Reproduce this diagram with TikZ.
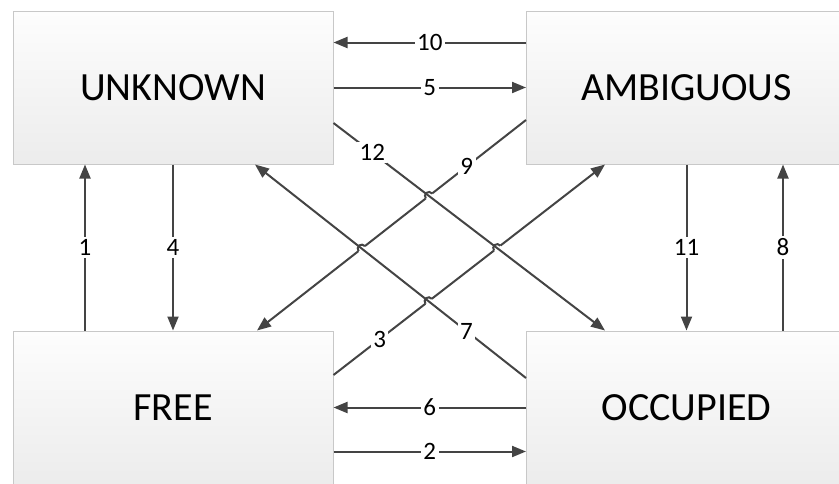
\documentclass[tikz,border=0pt]{standalone}
\usepackage{fontspec}
\setmainfont{Carlito}
\usetikzlibrary{arrows.meta,intersections}
\definecolor{edge}{RGB}{68,68,68}
\definecolor{boxline}{RGB}{200,200,200}
\definecolor{boxtop}{RGB}{253,253,253}
\definecolor{boxbot}{RGB}{236,236,236}
% small line jump where two diagonals cross
\newcommand\hopgap[1]{\begin{scope}[shift={(#1)},rotate=38]\draw[white,line width=4pt] (-4,0)--(4,0);\end{scope}}
\newcommand\hoparc[1]{\begin{scope}[shift={(#1)},rotate=38]\draw[edge,line width=2pt] (-4,0) arc[start angle=180,end angle=0,radius=4];\end{scope}}
\begin{document}
\begin{tikzpicture}[x=1pt,y=1pt,
  state/.style={draw=boxline,line width=1pt,top color=boxtop,bottom color=boxbot,
    minimum width=320pt,minimum height=153pt,inner sep=0pt,
    font=\fontsize{40}{48}\selectfont,text=black},
  link/.style={draw=edge,line width=2pt,-{Triangle[length=14pt,width=11pt]}},
  num/.style={fill=white,inner sep=2.5pt,font=\fontsize{25}{30}\selectfont,text=black}]
\useasboundingbox (0,0) rectangle (839,-483);
\clip (0,0) rectangle (839,-483);

% states
\node[state] (unk)  at (173,-87.5)   {UNKNOWN};
\node[state] (amb)  at (686.5,-87.5) {AMBIGUOUS};
\node[state] (free) at (173,-407.5)  {FREE};
\node[state] (occ)  at (686.5,-407.5){OCCUPIED};

% horizontal transitions
\draw[link] ([yshift=45]amb.west) -- ([yshift=45]unk.east) node[num,midway]{10};
\draw[link] (unk.east) -- (amb.west) node[num,midway]{5};
\draw[link] (occ.west) -- (free.east) node[num,midway]{6};
\draw[link] ([yshift=-44]free.east) -- ([yshift=-44]occ.west) node[num,midway]{2};

% vertical transitions
\draw[link] ([xshift=-88]free.north) -- ([xshift=-88]unk.south) node[num,midway]{1};
\draw[link] (unk.south) -- (free.north) node[num,midway]{4};
\draw[link] (amb.south) -- (occ.north) node[num,midway]{11};
\draw[link] ([xshift=96.5]occ.north) -- ([xshift=96.5]amb.south) node[num,midway]{8};

% diagonal transitions
\coordinate (s12) at ([yshift=-35.5]unk.east);
\coordinate (e12) at ([xshift=-81.5]occ.north);
\coordinate (s9)  at ([yshift=-32.5]amb.west);
\coordinate (e9)  at ([xshift=84]free.north);
\coordinate (s7)  at ([yshift=29.5]occ.west);
\coordinate (e7)  at ([xshift=82]unk.south);
\coordinate (s3)  at ([yshift=32.5]free.east);
\coordinate (e3)  at ([xshift=-81.5]amb.south);
\path[name path=l12] (s12) -- (e12);
\path[name path=l9]  (s9) -- (e9);
\path[name path=l7]  (s7) -- (e7);
\path[name path=l3]  (s3) -- (e3);
\path[name intersections={of=l12 and l9,by=xa}];
\path[name intersections={of=l12 and l3,by=xb}];
\path[name intersections={of=l7 and l9,by=xc}];
\path[name intersections={of=l7 and l3,by=xd}];

\draw[link] (s9) -- (e9) node[num,pos=0.22]{9};
\draw[link] (s3) -- (e3) node[num,pos=0.17]{3};
\hopgap{xa}\hopgap{xb}\hopgap{xc}\hopgap{xd}
\draw[link] (s12) -- (e12) node[num,pos=0.143]{12};
\draw[link] (s7) -- (e7) node[num,pos=0.22]{7};
\hoparc{xa}\hoparc{xb}\hoparc{xc}\hoparc{xd}
\end{tikzpicture}
\end{document}
